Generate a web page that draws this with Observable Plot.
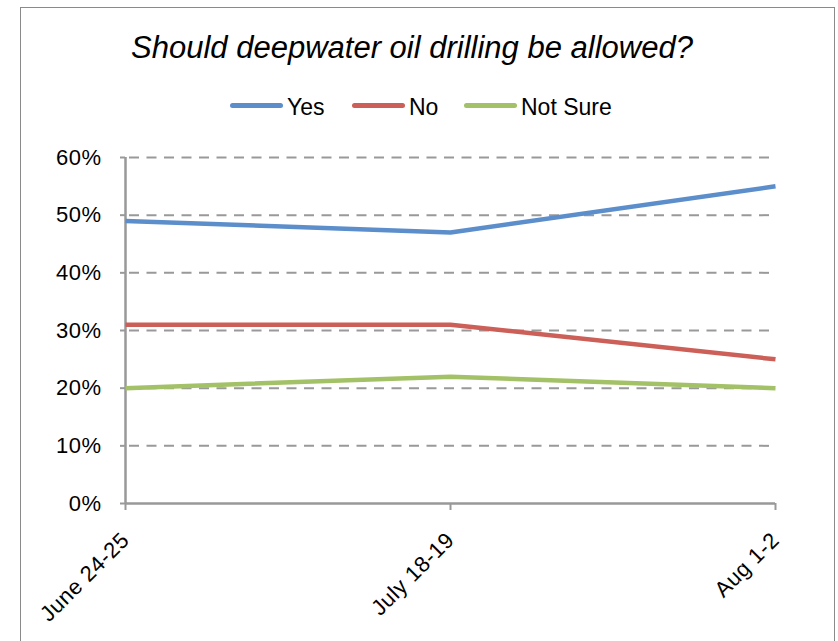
<!DOCTYPE html>
<html>
<head>
<meta charset="utf-8">
<script src="https://cdn.jsdelivr.net/npm/d3@7"></script>
<script src="https://cdn.jsdelivr.net/npm/@observablehq/plot@0.6"></script>
<style>
  html, body { margin: 0; padding: 0; background: #fff; }
  #wrap { position: relative; width: 838px; height: 641px; overflow: hidden; font-family: "Liberation Sans", Arial, sans-serif; }
  #frame { position: absolute; left: 20px; top: 7px; width: 815px; height: 700px; border: 1px solid #8a8a8a; box-sizing: border-box; }
  #title { position: absolute; left: 0; top: 0; width: 824px; height: 80px; text-align: center; font-style: italic; font-size: 31px; line-height: 31px; padding-top: 32px; box-sizing: border-box; color: #000; }
  #legend { position: absolute; left: 0; top: 80px; width: 838px; height: 50px; }
  .li { position: absolute; top: 14px; font-size: 23px; line-height: 26px; color: #000; white-space: nowrap; }
  .sw { position: absolute; height: 5px; border-radius: 2.5px; }
  #chart { position: absolute; left: 0; top: 130px; }
  #chart svg text { letter-spacing: 0.5px; }
</style>
</head>
<body>
<div id="wrap">
  <div id="frame"></div>
  <div id="title"></div>
  <div id="legend"></div>
  <div id="chart"></div>
</div>
<script>
const categories = ["June 24-25", "July 18-19", "Aug 1-2"];
const yesValues = [49, 47, 55];
const noValues = [31, 31, 25];
const notSureValues = [20, 22, 20];
const seriesNames = ["Yes", "No", "Not Sure"];
const seriesColors = ["#5b8ecb", "#cc5f58", "#a3c166"];
const yTicks = [0, 10, 20, 30, 40, 50, 60];
const titleText = "Should deepwater oil drilling be allowed?";

document.getElementById("title").textContent = titleText;

// legend
const legend = document.getElementById("legend");
const legendPos = [230, 352, 464];
seriesNames.forEach((name, i) => {
  const sw = document.createElement("div");
  sw.className = "sw";
  sw.style.left = legendPos[i] + "px";
  sw.style.width = "53px";
  sw.style.background = seriesColors[i];
  sw.style.top = "23px";
  legend.appendChild(sw);
  const t = document.createElement("div");
  t.className = "li";
  t.style.left = (legendPos[i] + 57) + "px";
  t.textContent = name;
  legend.appendChild(t);
});

const seriesValues = [yesValues, noValues, notSureValues];
const data = [];
seriesNames.forEach((s, si) => {
  categories.forEach((c, ci) => data.push({series: s, date: c, value: seriesValues[si][ci] / 100}));
});

const chart = Plot.plot({
  width: 838,
  height: 511,
  marginTop: 27,
  marginBottom: 138,
  marginLeft: 125,
  marginRight: 63,
  style: {fontFamily: "Liberation Sans, Arial, sans-serif", fontSize: "22px", color: "#000", background: "transparent"},
  x: {type: "point", domain: categories, padding: 0, label: null},
  y: {domain: [0, 0.6], label: null},
  color: {domain: seriesNames, range: seriesColors},
  marks: [
    Plot.ruleY(yTicks.filter(d => d > 0).map(d => d / 100), {stroke: "#999", strokeWidth: 2, strokeDasharray: "10,7.5", strokeDashoffset: -4}),
    Plot.ruleY([0], {stroke: "#999", strokeWidth: 2.5}),
    Plot.ruleX([categories[0]], {y1: 0, y2: 0.6, stroke: "#999", strokeWidth: 2.5}),
    Plot.axisY({ticks: yTicks.map(d => d / 100), tickFormat: d => Math.round(d * 100) + "%", tickSize: 5, tickPadding: 19, stroke: "#999", strokeWidth: 2, strokeOpacity: 1, fontSize: 22, label: null}),
    Plot.axisX({tickSize: 7, tickRotate: -45, tickPadding: 26, stroke: "#999", strokeWidth: 2, strokeOpacity: 1, fontSize: 22, label: null}),
    Plot.line(data, {x: "date", y: "value", stroke: "series", z: "series", strokeWidth: 4.5, strokeLinejoin: "miter", strokeLinecap: "butt"})
  ]
});
document.getElementById("chart").appendChild(chart);
</script>
</body>
</html>
